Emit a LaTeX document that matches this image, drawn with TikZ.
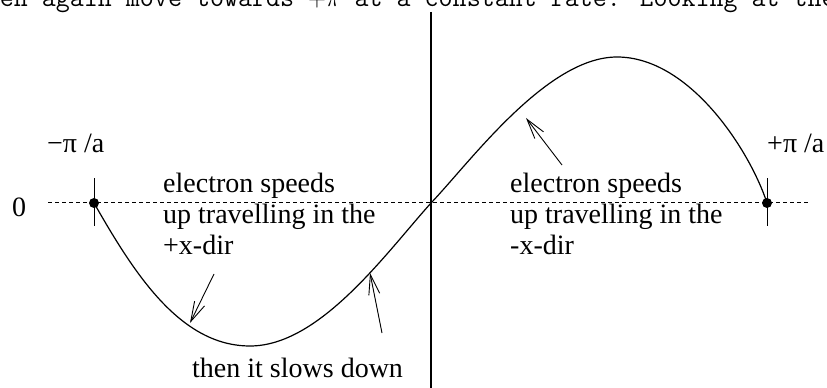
\documentclass[tikz,border=0pt]{standalone}
\usepackage{fontspec}
\setmainfont{Liberation Serif}
\usetikzlibrary{arrows.meta}

\begin{document}
\begin{tikzpicture}[x=1pt,y=1pt,every node/.style={font=\fontsize{28}{31}\selectfont,inner sep=0pt},
      lbl/.style={anchor=base west,align=left},
      dot/.style={circle,fill,minimum size=10pt},
      barb/.style={-{Straight Barb[length=20pt,width=11pt]},line width=0.9pt}]
  \useasboundingbox (0,0) rectangle (827,388);
  % line of running text, cut at the top
  \begin{scope}
    \clip (0,0) rectangle (827,388);
    \node[anchor=base west,font=\fontsize{27.2}{30}\ttfamily] (page) at (-14.3,381.5)
      {hen again move towards $+\pi$ at a constant rate. Looking at the};
  \end{scope}
  % axes
  \coordinate (vtop) at (431,376);
  \coordinate (vbot) at (431,0);
  \draw[line width=1.2pt] (vtop) -- (vbot);
  \coordinate (hl) at (48,185);
  \coordinate (hr) at (810,185);
  \draw[dash pattern=on 3.5pt off 3.5pt,line width=1pt] (hl) -- (hr);
  % zone edges
  \node[dot] (kmin) at (94,185) {};
  \node[dot] (kmax) at (767,185) {};
  \draw[line width=1pt] ([yshift=-23pt]kmin.center) -- ([yshift=25pt]kmin.center);
  \draw[line width=1pt] ([yshift=-23pt]kmax.center) -- ([yshift=25pt]kmax.center);
  \node[lbl] (zero) at (12,171) {0};
  \node[lbl] (kminlbl) at (47,235) {−π /a};
  \node[lbl] (kmaxlbl) at (767,235) {+π /a};
  % velocity curve
  \coordinate (vmin) at (250,42);
  \coordinate (orig) at (431,185);
  \coordinate (vmax) at (617,331);
  \draw[line width=1.2pt] (kmin.center) .. controls (134,115) and (180,42) .. (vmin)
    .. controls (320,42) and (386,135) .. (orig)
    .. controls (471,227) and (547,331) .. (vmax)
    .. controls (690,331) and (750,237) .. (kmax.center);
  % notes (base = last line)
  \node[lbl] (leftnote) at (163,133) {electron speeds\\up travelling in the\\+x-dir};
  \node[lbl] (rightnote) at (510,133) {electron speeds\\up travelling in the\\-x-dir};
  \node[lbl] (slow) at (192,10) {then it slows down};
  \coordinate (tailL) at (214,114);
  \coordinate (tipL) at (190,65);
  \coordinate (tailM) at (382,55);
  \coordinate (tipM) at (370,115);
  \coordinate (tailR) at (562,223);
  \coordinate (tipR) at (526,270);
  \draw[barb] (tailL) -- (tipL);
  \draw[barb] (tailM) -- (tipM);
  \draw[barb] (tailR) -- (tipR);
\end{tikzpicture}
\end{document}
